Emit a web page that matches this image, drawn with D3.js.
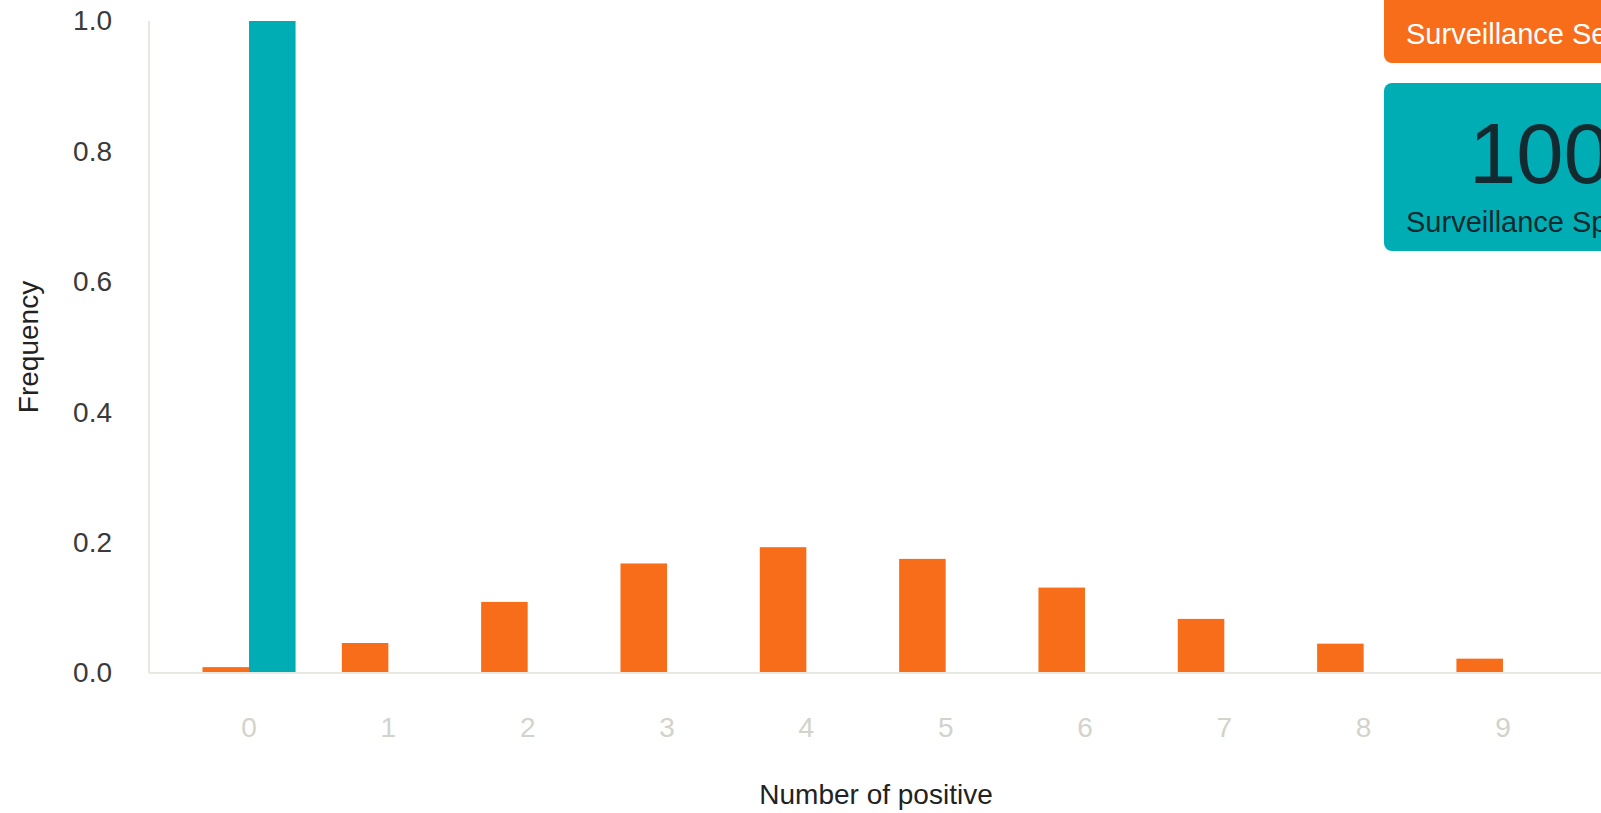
<!DOCTYPE html>
<html>
<head>
<meta charset="utf-8">
<script src="https://cdn.jsdelivr.net/npm/d3@7"></script>
<style>
  html, body { margin: 0; padding: 0; background: #ffffff; overflow: hidden; }
  svg { display: block; font-family: "Liberation Sans", Arial, sans-serif; }
</style>
</head>
<body>
<svg id="chart" width="1601" height="813"></svg>
<script>
// ---- data ----
const categories = ["0", "1", "2", "3", "4", "5", "6", "7", "8", "9"];
const seriesNames = ["Sensitivity", "Specificity"];
const sensitivityValues = [0.009, 0.046, 0.109, 0.168, 0.193, 0.175, 0.131, 0.083, 0.045, 0.022];
const specificityValues = [1.0, 0, 0, 0, 0, 0, 0, 0, 0, 0];
const yTicks = [0, 0.2, 0.4, 0.6, 0.8, 1.0];
const xTitle = "Number of positive";
const yTitle = "Frequency";
const badgeSensitivityLabel = "Surveillance Sensitivity";
const badgeSpecificityValue = "100%";
const badgeSpecificityLabel = "Surveillance Specificity";

const colors = { Sensitivity: "#f76d1a", Specificity: "#00adb4" };

const svg = d3.select("#chart");

const plotLeft = 149, plotRight = 1603, plotTop = 21, plotBottom = 673;

const x = d3.scaleBand()
  .domain(categories)
  .range([plotLeft, plotRight])
  .paddingInner(0.332)
  .paddingOuter(0.384);

const xSub = d3.scaleBand()
  .domain(seriesNames)
  .range([0, x.bandwidth()]);

const y = d3.scaleLinear().domain([0, 1]).range([plotBottom, plotTop]);

const rows = categories.map((c, i) => ({
  cat: c,
  values: [
    { s: "Sensitivity", v: sensitivityValues[i] },
    { s: "Specificity", v: specificityValues[i] }
  ]
}));

// y axis line
svg.append("line")
  .attr("x1", plotLeft).attr("x2", plotLeft)
  .attr("y1", plotTop).attr("y2", plotBottom)
  .attr("stroke", "#e8e8e2").attr("stroke-width", 2);

// bars
const g = svg.append("g");
rows.forEach(r => {
  g.selectAll(null)
    .data(r.values.filter(d => d.v > 0))
    .enter()
    .append("rect")
    .attr("x", d => x(r.cat) + xSub(d.s))
    .attr("y", d => y(d.v))
    .attr("width", xSub.bandwidth())
    .attr("height", d => y(0) - y(d.v))
    .attr("fill", d => colors[d.s]);
});

// x axis line
svg.append("line")
  .attr("x1", plotLeft).attr("x2", 1601)
  .attr("y1", plotBottom).attr("y2", plotBottom)
  .attr("stroke", "#e8e8e2").attr("stroke-width", 2);

// y axis labels
const yAxis = d3.axisLeft(y).tickValues(yTicks).tickFormat(d3.format(".1f")).tickSize(0).tickPadding(37);
const yg = svg.append("g").attr("transform", `translate(${plotLeft},0)`).call(yAxis);
yg.select(".domain").remove();
yg.selectAll("text")
  .attr("font-size", 28)
  .attr("font-family", "Liberation Sans, Arial, sans-serif")
  .attr("fill", "#3a3a3a");

// x axis labels
const xAxis = d3.axisBottom(x).tickSize(0).tickPadding(44);
const xg = svg.append("g").attr("transform", `translate(0,${plotBottom})`).call(xAxis);
xg.select(".domain").remove();
xg.selectAll("text")
  .attr("font-size", 28)
  .attr("font-family", "Liberation Sans, Arial, sans-serif")
  .attr("fill", "#d2d3cb");

// axis titles
svg.append("text")
  .attr("x", (plotLeft + plotRight) / 2)
  .attr("y", 804)
  .attr("text-anchor", "middle")
  .attr("font-size", 28)
  .attr("fill", "#222")
  .text(xTitle);

svg.append("text")
  .attr("transform", `translate(38,${(plotTop + plotBottom) / 2}) rotate(-90)`)
  .attr("text-anchor", "middle")
  .attr("font-size", 28)
  .attr("fill", "#222")
  .text(yTitle);

// badges
const badgeX = 1384, badgeW = 390;
svg.append("rect")
  .attr("x", badgeX).attr("y", -120)
  .attr("width", badgeW).attr("height", 183)
  .attr("rx", 8).attr("fill", colors.Sensitivity);
svg.append("text")
  .attr("x", 1406).attr("y", 44)
  .attr("font-size", 29)
  .attr("fill", "#ffffff")
  .text(badgeSensitivityLabel);

svg.append("rect")
  .attr("x", badgeX).attr("y", 83)
  .attr("width", badgeW).attr("height", 168)
  .attr("rx", 8).attr("fill", colors.Specificity);
svg.append("text")
  .attr("x", 1469).attr("y", 183)
  .attr("font-size", 85)
  .attr("fill", "#132a30")
  .text(badgeSpecificityValue);
svg.append("text")
  .attr("x", 1406).attr("y", 232)
  .attr("font-size", 29)
  .attr("fill", "#132a30")
  .text(badgeSpecificityLabel);
</script>
</body>
</html>
